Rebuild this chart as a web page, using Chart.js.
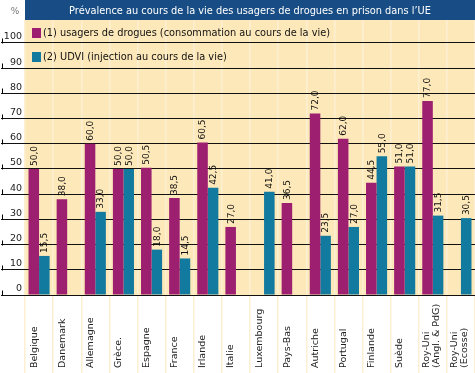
<!DOCTYPE html>
<html>
<head>
<meta charset="utf-8">
<script src="https://cdn.jsdelivr.net/npm/chart.js@4/dist/chart.umd.min.js"></script>
<style>
  html, body { margin: 0; padding: 0; background: #fff; }
  canvas { display: block; }
</style>
</head>
<body>
<canvas id="chart" width="475" height="373"></canvas>
<script>
// data
const TITLE = 'Prévalence au cours de la vie des usagers de drogues en prison dans l’UE';
const UNIT = '%';
const countries = ['Belgique', 'Danemark', 'Allemagne', 'Grèce.', 'Espagne', 'France', 'Irlande', 'Italie',
  'Luxembourg', 'Pays-Bas', 'Autriche', 'Portugal', 'Finlande', 'Suède',
  ['Roy-Uni', '(Angl. & PdG)'], ['Roy-Uni', '(Ecosse)']];
const usagers = [50.0, 38.0, 60.0, 50.0, 50.5, 38.5, 60.5, 27.0, null, 36.5, 72.0, 62.0, 44.5, 51.0, 77.0, null];
const udvi    = [15.5, null, 33.0, 50.0, 18.0, 14.5, 42.5, null, 41.0, null, 23.5, 27.0, 55.0, 51.0, 31.5, 30.5];
const seriesLabels = ['(1) usagers de drogues (consommation au cours de la vie)', '(2) UDVI (injection au cours de la vie)'];
const Y_MIN = 0, Y_TOP_TICK = 100, Y_STEP = 10;
const Y_MAX = 109.1; // plot goes a bit past 100 to leave room for the legend

const FONT = '"DejaVu Sans", sans-serif';
const MAGENTA = '#9c1f70';
const TEAL = '#12799f';
const TITLE_BG = '#174d84';
const PLOT_BG = '#fde8b9';

// background, title bar, unit
const backdrop = {
  id: 'backdrop',
  beforeDraw(chart) {
    const { ctx, chartArea: a } = chart;
    ctx.save();
    ctx.fillStyle = PLOT_BG;
    ctx.fillRect(a.left, a.top, a.right - a.left, a.bottom - a.top);
    ctx.fillStyle = TITLE_BG;
    ctx.fillRect(a.left, 0, a.right - a.left, a.top);
    ctx.fillStyle = '#fff';
    ctx.font = '9.8px ' + FONT;
    ctx.textAlign = 'center';
    ctx.textBaseline = 'middle';
    ctx.fillText(TITLE, (a.left + a.right) / 2, a.top / 2 + 1);
    ctx.fillStyle = '#777';
    ctx.font = '9px ' + FONT;
    ctx.fillText(UNIT, 15, 12);
    ctx.restore();
  }
};

// value labels, x labels, legend, little ticks
const overlay = {
  id: 'overlay',
  afterDraw(chart) {
    const { ctx, chartArea: a } = chart;
    const xs = chart.scales.x, ys = chart.scales.y;
    ctx.save();

    // little vertical marks at the left end of each grid line
    ctx.strokeStyle = '#000';
    ctx.lineWidth = 1;
    ys.ticks.forEach(t => {
      const y = Math.round(ys.getPixelForValue(t.value)) + 0.5;
      ctx.beginPath(); ctx.moveTo(2.5, y); ctx.lineTo(2.5, y - 5); ctx.stroke();
    });

    // values on top of the bars
    ctx.fillStyle = '#111';
    ctx.font = '9px ' + FONT;
    ctx.textAlign = 'left';
    ctx.textBaseline = 'middle';
    chart.data.datasets.forEach((ds, di) => {
      chart.getDatasetMeta(di).data.forEach((bar, i) => {
        const v = ds.data[i];
        if (v === null) return;
        ctx.save();
        ctx.translate(bar.x + 0.5, bar.y - 3);
        ctx.rotate(-Math.PI / 2);
        ctx.fillText(v.toFixed(1).replace('.', ','), 0, 0);
        ctx.restore();
      });
    });

    // category labels, rotated, anchored at the bottom
    ctx.fillStyle = '#222';
    ctx.font = '9.5px ' + FONT;
    chart.data.labels.forEach((lab, i) => {
      const c = xs.getPixelForValue(i);
      const lines = Array.isArray(lab) ? lab : [lab];
      lines.forEach((ln, k) => {
        const x = lines.length > 1 ? c - 6 + k * 10 : c - 5;
        ctx.save();
        ctx.translate(x, 368);
        ctx.rotate(-Math.PI / 2);
        ctx.fillText(ln, 0, 0);
        ctx.restore();
      });
    });

    // legend inside the plot
    ctx.font = '9.8px ' + FONT;
    chart.data.datasets.forEach((ds, di) => {
      const y = a.top + 13 + di * 24;
      ctx.fillStyle = ds.backgroundColor;
      ctx.fillRect(a.left + 7, y - 5, 9, 10);
      ctx.fillStyle = '#111';
      ctx.fillText(ds.label, a.left + 18, y);
    });
    ctx.restore();
  }
};

new Chart(document.getElementById('chart'), {
  type: 'bar',
  data: {
    labels: countries,
    datasets: [
      { label: seriesLabels[0], data: usagers, backgroundColor: MAGENTA },
      { label: seriesLabels[1], data: udvi, backgroundColor: TEAL }
    ]
  },
  options: {
    responsive: false,
    animation: false,
    layout: { padding: { top: 20, left: 0, right: 0, bottom: 0 } },
    datasets: { bar: { categoryPercentage: 0.75, barPercentage: 1.0, borderWidth: 0 } },
    plugins: { legend: { display: false }, title: { display: false }, tooltip: { enabled: false } },
    scales: {
      x: {
        afterFit(scale) { scale.height = 78; },
        grid: { offset: true, color: '#fdf0d2', lineWidth: 1.5, drawTicks: true, tickLength: 78 },
        border: { display: false },
        ticks: { display: false }
      },
      y: {
        min: Y_MIN, max: Y_MAX,
        afterFit(scale) { scale.width = 25; },
        afterBuildTicks(scale) { scale.ticks = scale.ticks.filter(t => t.value <= Y_TOP_TICK); },
        grid: { color: '#111', lineWidth: 1, drawTicks: true, tickLength: 24 },
        border: { display: false },
        ticks: {
          stepSize: Y_STEP,
          crossAlign: 'near',
          padding: -21,
          labelOffset: -6,
          color: '#222',
          font: { family: FONT, size: 9.5 }
        }
      }
    }
  },
  plugins: [backdrop, overlay]
});
</script>
</body>
</html>
